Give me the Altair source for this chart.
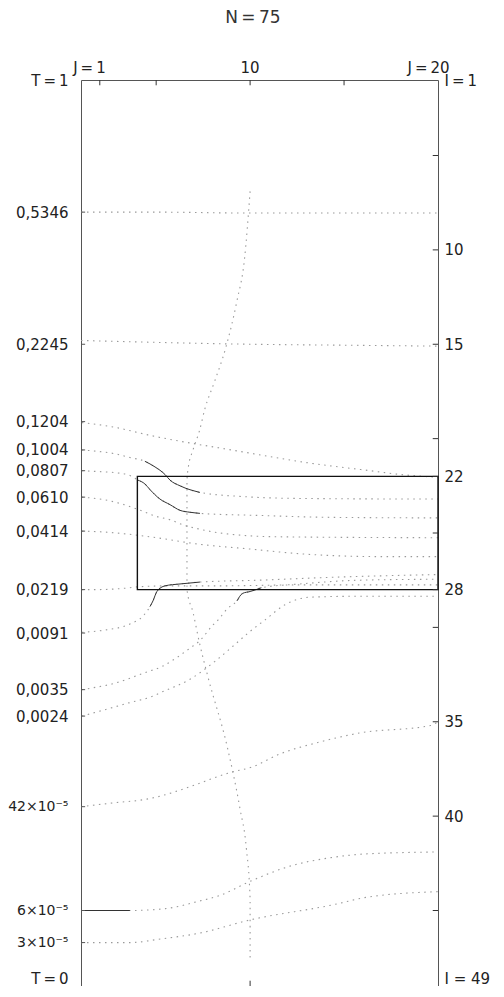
import json
import altair as alt
import pandas as pd

# ---------------- data ----------------
# each curve: J positions and I positions (I = row index, 1 at top, 49 at bottom)
curve_names = ["c5346", "c2245", "c1204", "c1004", "c0807", "c0610", "c0414",
               "c0219", "c0091", "c0035", "c0024", "c42e5", "c6e5", "c3e5", "ridge"]

c5346_J = [1, 5, 10, 15, 20]
c5346_I = [8.0, 8.0, 8.05, 8.05, 8.05]
c2245_J = [1, 5, 10, 15, 20]
c2245_I = [14.8, 14.9, 15.0, 15.05, 15.1]
c1204_J = [1.05, 2.8, 4.55, 9.6, 13.2, 16.4, 18.0, 20]
c1204_I = [19.15, 19.4, 19.8, 20.7, 21.3, 21.7, 21.9, 22.05]
c1004_J = [1.05, 1.64, 2.8, 3.6, 4.4, 4.94, 5.47, 5.74, 6.27, 7.33, 9.46, 12.65, 19.6, 20]
c1004_I = [20.6, 20.65, 20.8, 21.0, 21.2, 21.5, 21.9, 22.2, 22.5, 22.85, 23.06, 23.17, 23.2, 23.2]
c0807_J = [1.05, 2.0, 2.8, 3.6, 4.03, 4.4, 4.67, 5.2, 5.74, 6.27, 6.8, 7.33, 10.5, 14.25, 20]
c0807_I = [21.7, 21.75, 21.8, 21.95, 22.2, 22.4, 22.7, 23.2, 23.5, 23.8, 23.9, 23.96, 24.07, 24.17, 24.2]
c0610_J = [1.05, 2.55, 3.3, 4.03, 4.94, 5.74, 6.53, 7.33, 8.4, 11.4, 20]
c0610_I = [23.1, 23.3, 23.5, 23.75, 24.1, 24.3, 24.6, 24.8, 25.0, 25.2, 25.25]
c0414_J = [1.05, 2.4, 4.67, 7.33, 10.0, 12.65, 16.9, 20]
c0414_I = [24.9, 24.96, 25.2, 25.6, 25.85, 26.1, 26.25, 26.25]
c0219_J = [1.05, 1.74, 3.6, 4.03, 5.74, 8.4, 12.65, 20]
c0219_I = [28.0, 28.0, 27.9, 27.85, 27.8, 27.8, 27.75, 27.75]
c0091_J = [1.05, 2.22, 3.66, 4.3, 4.67, 4.83, 5.04, 5.47, 6.27, 7.33, 10.5, 14.25, 20]
c0091_I = [30.26, 30.15, 29.8, 29.4, 28.9, 28.6, 28.1, 27.8, 27.7, 27.6, 27.5, 27.35, 27.2]
c0035_J = [1.05, 1.64, 2.65, 4.4, 5.36, 6.1, 6.8, 7.33, 8.0, 8.3, 8.8, 9.3, 9.6, 10.0, 10.6, 12.65, 15.85, 20]
c0035_I = [33.3, 33.2, 33.0, 32.4, 32.05, 31.6, 31.1, 30.7, 29.9, 29.6, 29.0, 28.6, 28.2, 28.1, 27.9, 27.7, 27.5, 27.45]
c0024_J = [1.05, 1.96, 3.55, 4.8, 5.36, 6.8, 8.13, 9.2, 9.94, 10.8, 11.86, 13.2, 15.85, 20]
c0024_I = [34.7, 34.45, 34.0, 33.65, 33.4, 32.75, 31.8, 30.9, 30.26, 29.6, 28.8, 28.4, 28.35, 28.35]
c42e5_J = [1, 2.7, 4.5, 7.2, 8.0, 8.9, 10.1, 11.6, 13.6, 15.8, 19.6, 20]
c42e5_I = [39.5, 39.3, 39.1, 38.3, 38.0, 37.7, 37.4, 36.7, 36.1, 35.6, 35.2, 35.0]
c6e5_J = [1, 3.6, 5.5, 7.3, 8.4, 9.9, 12.3, 14.3, 16.2, 20]
c6e5_I = [45.0, 45.0, 44.9, 44.5, 44.2, 43.5, 42.6, 42.2, 42.0, 41.9]
c3e5_J = [1, 3.6, 5.3, 7.3, 10.0, 14.4, 16.2, 20]
c3e5_I = [46.7, 46.7, 46.5, 46.2, 45.5, 44.7, 44.3, 44.0]
ridge_J = [10.0, 9.7, 9.3, 8.7, 8.1, 7.6, 7.3, 6.96, 6.7, 6.64, 6.64, 6.64, 6.96, 7.3, 7.75,
           8.8, 9.46, 9.8, 10.0, 10.0]
ridge_I = [6.9, 10.5, 12.7, 15.2, 17.0, 18.4, 19.6, 20.6, 21.6, 22.2, 25.5, 28.0, 29.2, 30.8, 32.6,
           36.4, 39.6, 41.7, 44.4, 47.6]

# parts of curves drawn as full (solid) lines: curve, J from, J to
solid_curve = ["c1004", "c0807", "c0091", "c0035", "c6e5"]
solid_from = [4.0, 4.03, 4.67, 9.3, 1.0]
solid_to = [7.4, 7.33, 7.33, 10.6, 3.6]

# the boxed region
box_J0, box_J1, box_I0, box_I1 = [4.0], [20.0], [22.0], [28.0]

# left axis: T labels at row positions
T_pos = [1, 8, 15, 19.1, 20.6, 21.7, 23.1, 24.9, 28, 30.3, 33.3, 34.7, 39.5, 45, 46.7, 49]
T_labels = ["T\u2009=\u20091", "0,5346", "0,2245", "0,1204", "0,1004", "0,0807", "0,0610",
            "0,0414", "0,0219", "0,0091", "0,0035", "0,0024", "42\u00d710\u207b\u2075",
            "6\u00d710\u207b\u2075", "3\u00d710\u207b\u2075", "T\u2009=\u20090"]
# right axis: I labels
I_pos = [1, 10, 15, 22, 28, 35, 40, 49]
I_labels = ["I\u2009=\u20091", "10", "15", "22", "28", "35", "40", "I = 49"]
I_ticks = [5, 10, 15, 20, 22, 25, 28, 30, 35, 40, 45]
# top labels / ticks
J_label_pos = [1.45, 10, 19.5]
J_labels = ["J\u2009=\u20091", "10", "J\u2009=\u200920"]
J_ticks = [2, 5, 10, 15]
title_text = "N\u2009=\u200975"

# ---------------- build tables ----------------
rows = []
for name in curve_names:
    js = globals()[name + "_J"]
    is_ = globals()[name + "_I"]
    for k, (j, i) in enumerate(zip(js, is_)):
        rows.append({"curve": name, "J": j, "I": i, "order": k})
curves = pd.DataFrame(rows)

solid_parts = []
for c, a, b in zip(solid_curve, solid_from, solid_to):
    sub = curves[(curves.curve == c) & (curves.J >= a - 1e-9) & (curves.J <= b + 1e-9)]
    solid_parts.append(sub)
solid = pd.concat(solid_parts)

box = pd.DataFrame({"J0": box_J0, "J1": box_J1, "I0": box_I0, "I1": box_I1})
rticks = pd.DataFrame({"I": I_ticks})
lticks = pd.DataFrame({"I": T_pos[1:-1]})
tticks = pd.DataFrame({"J": J_ticks})
tlabels = pd.DataFrame({"J": J_label_pos, "text": J_labels})
ttl = pd.DataFrame({"J": [10.15], "text": [title_text]})

FONT = "DejaVu Sans"
INK = "#222222"
xs = alt.Scale(domain=[1, 20], nice=False, zero=False)
ys = alt.Scale(domain=[1, 49], reverse=True, nice=False, zero=False)

left_axis = alt.Axis(
    values=T_pos, domain=False, ticks=False, grid=False, title=None,
    labelExpr=f"{json.dumps(T_labels, ensure_ascii=False)}[indexof({json.dumps(T_pos)}, datum.value)]",
    labelFont=FONT, labelColor=INK, labelPadding=13,
    labelFontSize={"condition": {"test": "datum.value > 39 && datum.value < 49", "value": 14},
                   "value": 15},
    labelBaseline={"condition": {"test": "datum.value == 49", "value": "bottom"}, "value": "middle"},
)
right_axis = alt.Axis(
    orient="right", values=I_pos, domain=False, ticks=False, grid=False, title=None,
    labelExpr=f"{json.dumps(I_labels, ensure_ascii=False)}[indexof({json.dumps(I_pos)}, datum.value)]",
    labelFont=FONT, labelFontSize=15, labelColor=INK, labelPadding=6,
    labelBaseline={"condition": {"test": "datum.value == 49", "value": "bottom"}, "value": "middle"},
)

dotted = alt.Chart(curves).mark_line(
    color="#9a9a9a", strokeWidth=1.1, strokeDash=[1.5, 4.5], interpolate="monotone"
).encode(
    x=alt.X("J:Q", scale=xs, axis=None),
    y=alt.Y("I:Q", scale=ys, axis=left_axis),
    detail="curve:N",
    order="order:Q",
)

solid_layer = alt.Chart(solid).mark_line(
    color="#333333", strokeWidth=1.0, interpolate="monotone"
).encode(
    x=alt.X("J:Q", scale=xs, axis=None),
    y=alt.Y("I:Q", scale=ys, axis=None),
    detail="curve:N",
    order="order:Q",
)

box_layer = alt.Chart(box).mark_rect(
    fill="transparent", stroke="#111111", strokeWidth=1.4
).encode(
    x=alt.X("J0:Q", scale=xs, axis=None), x2="J1:Q",
    y=alt.Y("I0:Q", scale=ys, axis=None), y2="I1:Q",
)

rtick_layer = alt.Chart(rticks).mark_rule(color="#333333", strokeWidth=1).encode(
    x=alt.XDatum(20, scale=xs, axis=None), x2=alt.X2Datum(19.72),
    y=alt.Y("I:Q", scale=ys, axis=right_axis),
)
ltick_layer = alt.Chart(lticks).mark_rule(color="#555555", strokeWidth=1).encode(
    x=alt.XDatum(1, scale=xs, axis=None), x2=alt.X2Datum(1.22),
    y=alt.Y("I:Q", scale=ys, axis=None),
)
ttick_layer = alt.Chart(tticks).mark_rule(color="#333333", strokeWidth=1).encode(
    x=alt.X("J:Q", scale=xs, axis=None),
    y=alt.YDatum(1, scale=ys, axis=None), y2=alt.Y2Datum(1.28),
)
btick_layer = alt.Chart(pd.DataFrame({"J": [10]})).mark_rule(color="#333333", strokeWidth=1).encode(
    x=alt.X("J:Q", scale=xs, axis=None),
    y=alt.YDatum(49, scale=ys, axis=None), y2=alt.Y2Datum(48.72),
)
tlabel_layer = alt.Chart(tlabels).mark_text(
    font=FONT, fontSize=15, color=INK, baseline="middle", dy=-12
).encode(
    x=alt.X("J:Q", scale=xs, axis=None),
    y=alt.YDatum(1, scale=ys, axis=None),
    text="text:N",
)
title_layer = alt.Chart(ttl).mark_text(
    font=FONT, fontSize=17, color="#333333", baseline="middle", dy=-62
).encode(
    x=alt.X("J:Q", scale=xs, axis=None),
    y=alt.YDatum(1, scale=ys, axis=None),
    text="text:N",
)

chart = alt.layer(
    dotted, solid_layer, box_layer, rtick_layer, ltick_layer, ttick_layer,
    btick_layer, tlabel_layer, title_layer
).resolve_axis(y="independent").properties(
    width=357, height=906,
    padding={"left": 73, "top": 72, "right": 58, "bottom": 0},
    autosize=alt.AutoSizeParams(type="none"),
    background="white",
).configure_view(stroke="#555555", strokeWidth=1)

chart.save("out.html", embed_options={"renderer": "svg", "actions": False})
